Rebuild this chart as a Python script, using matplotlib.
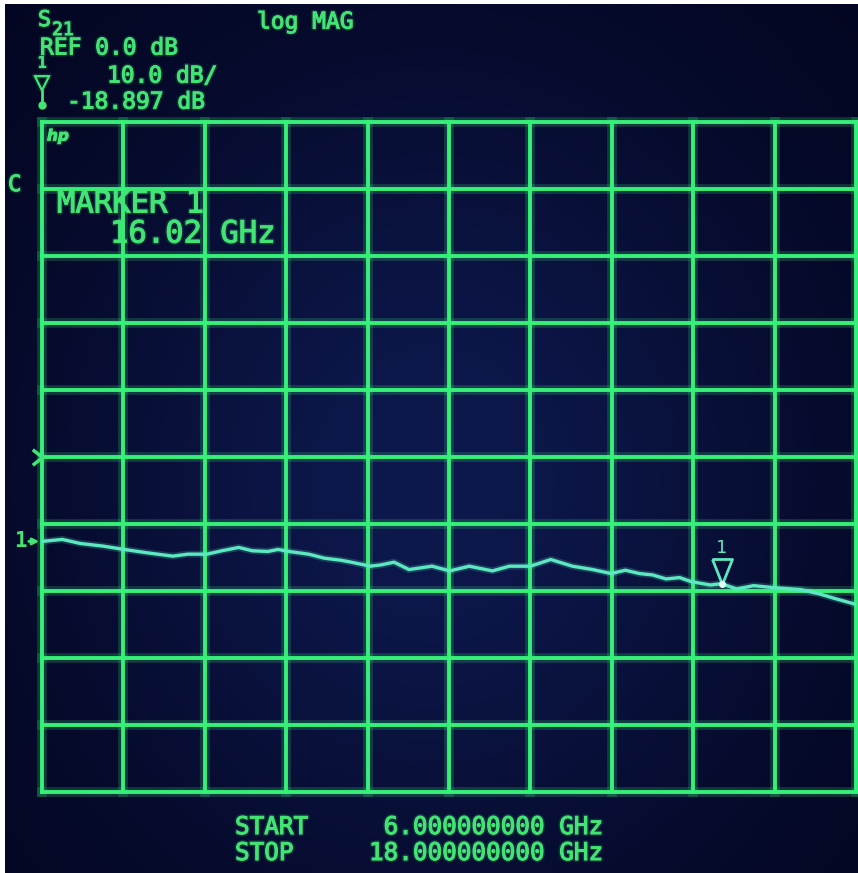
import numpy as np
import matplotlib
matplotlib.use("Agg")
import matplotlib.pyplot as plt
import matplotlib.patheffects as pe
from matplotlib.path import Path
from matplotlib.lines import Line2D

# S21 trace (GHz, dB)
freq_ghz = [6.00, 6.30, 6.56, 6.90, 7.21, 7.55, 7.93, 8.15, 8.43, 8.65,
            8.90, 9.10, 9.33, 9.48, 9.64, 9.93, 10.16, 10.40, 10.56, 10.84,
            11.00, 11.19, 11.41, 11.75, 12.01, 12.30, 12.64, 12.89, 13.20, 13.50,
            13.82, 14.12, 14.39, 14.60, 14.81, 15.00, 15.20, 15.40, 15.57, 15.85,
            16.02, 16.24, 16.49, 16.79, 17.19, 17.45, 17.68, 18.00]
s21_db = [-12.6, -12.3, -12.9, -13.3, -13.8, -14.3, -14.8, -14.5, -14.5, -14.0,
          -13.5, -14.0, -14.1, -13.8, -14.1, -14.5, -15.1, -15.4, -15.7, -16.3,
          -16.1, -15.7, -16.8, -16.3, -17.0, -16.3, -17.0, -16.3, -16.3, -15.3,
          -16.3, -16.8, -17.4, -16.9, -17.4, -17.6, -18.2, -18.0, -18.6, -19.1,
          -18.9, -19.7, -19.2, -19.5, -19.8, -20.4, -21.1, -22.0]

marker_freq = 16.02
marker_db = -18.897
ref_db = 0.0
scale_db = 10.0
start_ghz = 6.0
stop_ghz = 18.0
n_div = 10
pointer_db = -12.6  # the "1->" pointer on the left edge

W, H = 858, 873
grid_col = "#36f078"
text_col = "#42e474"
trace_col = "#5ce8c0"
mono = "DejaVu Sans Mono"

fig = plt.figure(figsize=(W / 100, H / 100), dpi=100, facecolor="white")

# dark CRT background, a bit lighter in the middle
yy, xx = np.mgrid[0:1:300j, 0:1:300j]
f = np.exp(-(((xx - 0.5) / 0.45) ** 2 + ((yy - 0.55) / 0.5) ** 2))
c0 = np.array([3, 5, 30]) / 255
c1 = np.array([13, 24, 76]) / 255
img = c0 + (c1 - c0) * f[..., None]
bg = fig.add_axes([5 / W, 0, 1 - 5 / W, 1 - 4 / H])
bg.imshow(img, aspect="auto")
bg.axis("off")

glow = [pe.Stroke(linewidth=7, foreground=grid_col, alpha=0.2), pe.Normal()]
txt_fx = [pe.Stroke(linewidth=3, foreground=text_col, alpha=0.15),
          pe.Stroke(linewidth=0.8, foreground=text_col), pe.Normal()]

ax = fig.add_axes([42 / W, 1 - 792 / H, (856 - 42) / W, (792 - 122) / H])
ax.set_xlim(start_ghz, stop_ghz)
ax.set_ylim(ref_db - 5 * scale_db, ref_db + 5 * scale_db)
ax.patch.set_alpha(0)
ax.axis("off")

for x in np.linspace(start_ghz, stop_ghz, n_div + 1):
    ax.axvline(x, color=grid_col, lw=2.8, clip_on=False, path_effects=glow)
for y in np.linspace(ref_db - 5 * scale_db, ref_db + 5 * scale_db, n_div + 1):
    ax.axhline(y, color=grid_col, lw=2.8, clip_on=False, path_effects=glow)

ax.plot(freq_ghz, s21_db, color=trace_col, lw=2.4, zorder=5,
        path_effects=[pe.Stroke(linewidth=5, foreground=trace_col, alpha=0.2), pe.Normal()])

# marker 1 on the trace
tri = Path([(-0.4, 1), (0.4, 1), (0, 0), (-0.4, 1)])
ax.plot([marker_freq], [marker_db], marker=tri, ms=36, mfc="none", mec=trace_col,
        mew=2, zorder=6)
ax.plot([marker_freq], [marker_db], "o", ms=4, color="#e8fff4", zorder=7)
ax.annotate("1", (marker_freq, marker_db), xytext=(0, 36), textcoords="offset pixels",
            ha="center", va="center", fontsize=13, family=mono, color=trace_col)

# reference position ">" and "1->" pointer
chev = Path([(-1, 0.8), (0, 0), (-1, -0.8)], [Path.MOVETO, Path.LINETO, Path.LINETO])
ax.plot([start_ghz], [ref_db], marker=chev, ms=14, fillstyle="none", mec=text_col,
        mew=2.5, clip_on=False, zorder=6)
ax.annotate("", xy=(start_ghz, pointer_db), xytext=(-16, 0), textcoords="offset pixels",
            arrowprops=dict(arrowstyle="-|>", color=text_col, lw=2, mutation_scale=9),
            annotation_clip=False)
ax.annotate("1", (start_ghz, pointer_db), xytext=(-22, 0), textcoords="offset pixels",
            ha="center", va="center", fontsize=15, family=mono, color=text_col,
            weight="bold", annotation_clip=False)


def screen_text(x, y, s, size, ha="left", **kw):
    fig.text(x / W, 1 - y / H, s, ha=ha, va="center", fontsize=size, color=text_col,
             family=kw.pop("family", mono), path_effects=txt_fx, **kw)


screen_text(38, 20, "S", 15.5)
screen_text(52, 30, "21", 13)
screen_text(40, 48, f"REF {ref_db:.1f} dB", 16.5)
screen_text(257, 22, "log MAG", 16.5)
screen_text(42, 63, "1", 11, ha="center")
screen_text(107, 76, f"{scale_db:.1f} dB/", 16.5)
screen_text(42, 83, "\u25bd", 15, ha="center", family="DejaVu Sans")
fig.add_artist(Line2D([42 / W, 42 / W], [1 - 91 / H, 1 - 104 / H], color=text_col, lw=2))
fig.add_artist(Line2D([42 / W], [1 - 105 / H], marker="o", ms=5, color=text_col))
screen_text(67, 102, f"{marker_db:.3f} dB", 16.5)
screen_text(47, 136, "hp", 11, family="DejaVu Sans", weight="bold", style="italic")
screen_text(8, 185, "C", 16)
screen_text(57, 204, "MARKER 1", 22)
screen_text(110, 234, f"{marker_freq:.2f} GHz", 22)
screen_text(235, 827, "START", 17.5)
screen_text(603, 827, f"{start_ghz:.9f} GHz", 17.5, ha="right")
screen_text(235, 853, "STOP", 17.5)
screen_text(603, 853, f"{stop_ghz:.9f} GHz", 17.5, ha="right")

fig.savefig("out.png", dpi=100, facecolor=fig.get_facecolor())
